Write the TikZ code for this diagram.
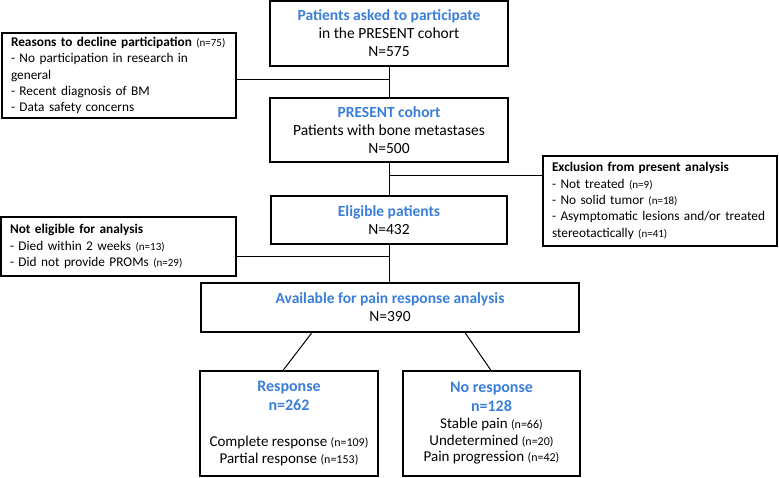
\documentclass[tikz,border=0pt]{standalone}
\usepackage{fontspec}
\setmainfont{Carlito}
\definecolor{titleblue}{RGB}{58,126,220}
\newcommand{\sm}[1]{{\fontsize{11}{12}\selectfont #1}}
\newcommand{\smc}[1]{{\fontsize{12}{13}\selectfont #1}}
\newcommand{\ttl}[1]{\textcolor{titleblue}{\textbf{#1}}}
\newcommand{\bttl}[1]{\textcolor{titleblue}{\fontsize{16}{19}\selectfont\textbf{#1}}}
\begin{document}
\begin{tikzpicture}[x=1pt,y=-1pt,
  box/.style={draw=black, line width=1.1pt, inner sep=0pt, align=center,
    font=\fontsize{15.5}{18}\selectfont},
  lbox/.style={draw=black, line width=1.1pt, inner xsep=9pt, inner ysep=0pt, align=left,
    font=\fontsize{13.3}{16.3}\selectfont},
  rbox/.style={box, font=\fontsize{15}{16.5}\selectfont},
  conn/.style={line width=1pt}]
\useasboundingbox (0,0) rectangle (779,478);

\node[box, minimum width=238pt, minimum height=65pt] (ask) at (389,33.5)
  {\ttl{Patients asked to participate}\\in the PRESENT cohort\\N=575};
\node[lbox, text width=216pt, minimum height=85pt] (decline) at (119,75.5)
  {\textbf{Reasons to decline participation} \sm{(n=75)}\\- No participation in research in\\general\\- Recent diagnosis of BM\\- Data safety concerns};
\node[box, minimum width=238pt, minimum height=64pt] (cohort) at (389,130)
  {\ttl{PRESENT cohort}\\Patients with bone metastases\\N=500};
\node[lbox, text width=216pt, minimum height=90pt] (excl) at (660,201)
  {\textbf{Exclusion from present analysis}\\- Not treated \sm{(n=9)}\\- No solid tumor \sm{(n=18)}\\- Asymptomatic lesions and/or treated\\stereotactically \sm{(n=41)}};
\node[box, minimum width=236pt, minimum height=48pt] (elig) at (389,220)
  {\ttl{Eligible patients}\\N=432};
\node[lbox, text width=217pt, minimum height=59pt] (noteli) at (118.5,246.5)
  {\textbf{Not eligible for analysis}\\- Died within 2 weeks \sm{(n=13)}\\- Did not provide PROMs \sm{(n=29)}};
\node[box, minimum width=378pt, minimum height=49pt] (avail) at (390,307.5)
  {\ttl{Available for pain response analysis}\\N=390};
\node[rbox, minimum width=178pt, minimum height=105pt] (resp) at (289,423.5)
  {\bttl{Response}\\[2pt]\bttl{n=262}\\[20pt]Complete response \smc{(n=109)}\\Partial response \smc{(n=153)}};
\node[rbox, minimum width=177pt, minimum height=105pt] (noresp) at (491.5,423.5)
  {\bttl{No response}\\[2pt]\bttl{n=128}\\[1pt]Stable pain \smc{(n=66)}\\Undetermined \smc{(n=20)}\\Pain progression \smc{(n=42)}};

\draw[conn] (ask.south) -- (cohort.north);
\coordinate (j1) at (389,80);
\draw[conn] (j1) -- (j1 -| decline.east);
\draw[conn] (cohort.south) -- (elig.north);
\coordinate (j2) at (389,176);
\draw[conn] (j2) -- (j2 -| excl.west);
\draw[conn] (elig.south) -- (elig.south |- avail.north);
\coordinate (j3) at (389,257);
\draw[conn] (j3) -- (j3 -| noteli.east);
\draw[conn] ([xshift=-78pt]avail.south) -- ([xshift=-6pt]resp.north);
\draw[conn] ([xshift=75pt]avail.south) -- ([xshift=-0.5pt]noresp.north);
\end{tikzpicture}
\end{document}
